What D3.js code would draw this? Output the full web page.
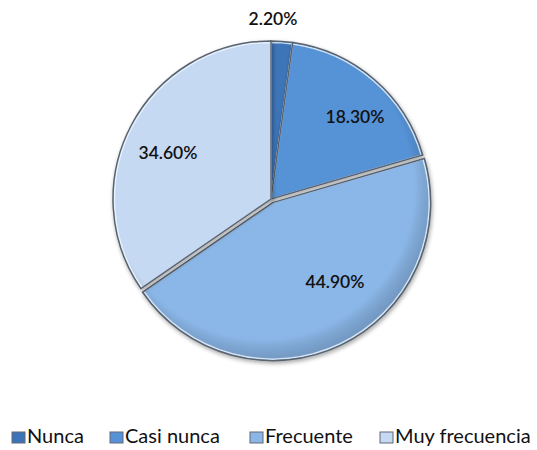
<!DOCTYPE html>
<html><head><meta charset="utf-8">
<script src="https://cdn.jsdelivr.net/npm/d3@7"></script>
<style>body{margin:0;background:#fff;} svg{display:block;}</style>
</head><body>
<script>
const categories = ["Nunca", "Casi nunca", "Frecuente", "Muy frecuencia"];
const values = [2.2, 18.3, 44.9, 34.6];
const labels = ["2.20%", "18.30%", "44.90%", "34.60%"];
const colors = ["#3d74b8", "#5692d6", "#8bb7e8", "#c6d9f2"];

const W = 537, H = 450, cx = 271, cy = 199, R = 158;
const svg = d3.select("body").append("svg").attr("width", W).attr("height", H);
const defs = svg.append("defs");
const f = defs.append("filter").attr("id","sh").attr("x","-20%").attr("y","-20%").attr("width","140%").attr("height","140%");
f.append("feGaussianBlur").attr("in","SourceAlpha").attr("stdDeviation",2);
f.append("feOffset").attr("dx",1).attr("dy",2).attr("result","b");
f.append("feComponentTransfer").append("feFuncA").attr("type","linear").attr("slope",0.35);
const m = f.append("feMerge"); m.append("feMergeNode"); m.append("feMergeNode").attr("in","SourceGraphic");

const rg = defs.append("radialGradient").attr("id","rim").attr("gradientUnits","userSpaceOnUse")
  .attr("cx",-10).attr("cy",-15).attr("r",R+14);
rg.append("stop").attr("offset","88%").attr("stop-color","#000").attr("stop-opacity",0);
rg.append("stop").attr("offset","100%").attr("stop-color","#203040").attr("stop-opacity",0.22);

const pie = d3.pie().sort(null).value(d => d)(values);
const arc = d3.arc().innerRadius(0).outerRadius(R);
const explode = [0, 0, 4, 0];
const g = svg.append("g").attr("transform", `translate(${cx},${cy})`);
const slices = g.selectAll("g.s").data(pie).join("g").attr("class","s")
  .attr("transform", (d,i) => { const a=(d.startAngle+d.endAngle)/2; return `translate(${Math.sin(a)*explode[i]},${-Math.cos(a)*explode[i]})`; })
  .attr("filter","url(#sh)");
slices.append("path").attr("d", arc).attr("fill", (d,i) => colors[i]);
slices.append("path").attr("d", arc).attr("fill", "url(#rim)");
slices.append("path").attr("d", d3.arc().innerRadius(0).outerRadius(R-1.5)).attr("fill","none")
  .attr("stroke","#eef6ff").attr("stroke-width",1.5).attr("stroke-opacity",0.8);
slices.append("path").attr("d", arc).attr("fill","none")
  .attr("stroke", "#5a6470").attr("stroke-width", 1.5);

const labelPos = [[273, 21], [355, 119], [335, 284], [168, 155]];
svg.selectAll("text.lab").data(labels).join("text").attr("class","lab")
  .attr("x", (d,i) => labelPos[i][0]).attr("y", (d,i) => labelPos[i][1])
  .attr("text-anchor","middle").attr("dominant-baseline","middle")
  .attr("font-family","Lato, 'Noto Sans', sans-serif").attr("font-size",17.5).attr("font-weight",600)
  .attr("fill","#111").text(d => d);

const legX = [12, 110, 250, 380];
const lg = svg.selectAll("g.leg").data(categories).join("g").attr("class","leg")
  .attr("transform", (d,i) => `translate(${legX[i]},438)`);
lg.append("rect").attr("x",0).attr("y",-6).attr("width",13).attr("height",11)
  .attr("fill", (d,i) => colors[i]).attr("stroke","#667").attr("stroke-width",1);
lg.append("text").attr("x",15).attr("y",0).attr("dominant-baseline","middle")
  .attr("font-family","Lato, 'Noto Sans', sans-serif").attr("font-size",20)
  .attr("fill","#111").text(d => d);
</script>
</body></html>
